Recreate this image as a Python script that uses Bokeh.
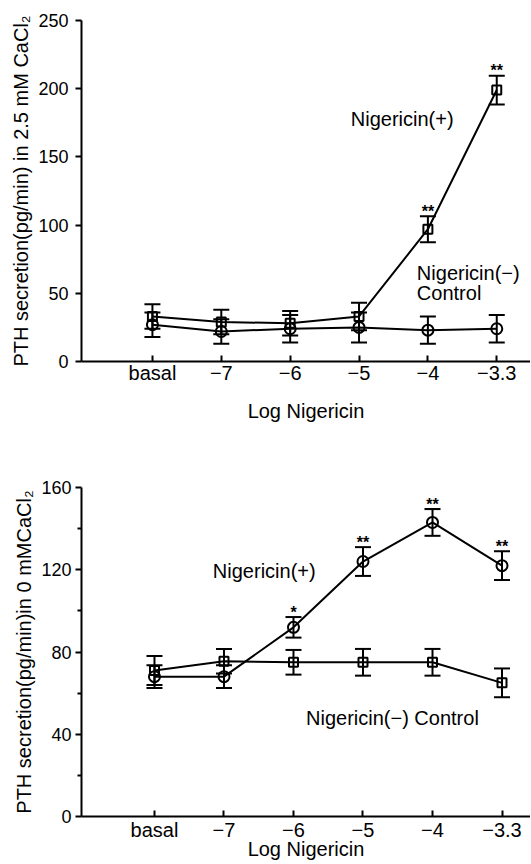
from bokeh.plotting import figure
from bokeh.models import Range1d, FixedTicker, Whisker, ColumnDataSource, Label, TeeHead
from bokeh.layouts import column
from bokeh.embed import file_html
from bokeh.resources import INLINE
from bokeh.core.properties import value

# ---------------- data ----------------
categories = ["basal", "\u22127", "\u22126", "\u22125", "\u22124", "\u22123.3"]

# top panel: 2.5 mM CaCl2
top_plus = [33, 29, 28, 33, 97, 199]
top_plus_err = [9, 9, 9, 10, 9.5, 10.5]
top_ctrl = [27, 22, 24, 25, 23, 24]
top_ctrl_err = [9, 9, 10, 11, 10, 10]
top_plus_sig = ["", "", "", "", "**", "**"]
top_yticks = [0, 50, 100, 150, 200, 250]

# bottom panel: 0 mM CaCl2
bot_plus = [68, 68, 92, 124, 143, 122]
bot_plus_err = [5.5, 5.5, 5, 7, 6.5, 7]
bot_ctrl = [71, 75.5, 75, 75, 75, 65]
bot_ctrl_err = [7, 6, 6, 6.5, 6.5, 7]
bot_plus_sig = ["", "", "*", "**", "**", "**"]
bot_yticks = [0, 40, 80, 120, 160]
bot_yminor = [20, 60, 100, 140]

FONT = "Liberation Sans"
x_pos = list(range(len(categories)))


def series(p, means, errs, marker, size, sig=None):
    src = ColumnDataSource(dict(
        x=x_pos, y=means,
        upper=[m + e for m, e in zip(means, errs)],
        lower=[m - e for m, e in zip(means, errs)],
        sig=sig if sig is not None else [""] * len(means),
    ))
    p.line("x", "y", source=src, line_color="black", line_width=2)
    w = Whisker(source=src, base="x", upper="upper", lower="lower",
                line_color="black", line_width=2,
                upper_head=TeeHead(size=16, line_width=2, line_color="black"),
                lower_head=TeeHead(size=16, line_width=2, line_color="black"))
    p.add_layout(w)
    p.scatter("x", "y", source=src, marker=marker, size=size,
              fill_color=None, line_color="black", line_width=2)
    if sig is not None:
        p.text(x="x", y="upper", text="sig", source=src, text_align="center",
               text_baseline="alphabetic", y_offset=-5, text_font_size="16px",
               text_font_style="bold", text_font=value(FONT), text_color="black")


def style(p, yticks, yminor, xlabel_standoff, xtitle_standoff, ylabel_standoff):
    p.xaxis.ticker = FixedTicker(ticks=x_pos)
    p.xaxis.major_label_overrides = {i: c for i, c in enumerate(categories)}
    p.yaxis.ticker = FixedTicker(ticks=yticks, minor_ticks=yminor)
    p.grid.visible = False
    p.outline_line_color = None
    for ax in (p.xaxis[0], p.yaxis[0]):
        ax.axis_line_width = 2
        ax.axis_line_color = "black"
        ax.major_tick_line_width = 2
        ax.major_tick_line_color = "black"
        ax.minor_tick_line_width = 2
        ax.minor_tick_line_color = "black"
        ax.major_label_text_font = FONT
        ax.major_label_text_font_size = "18px"
        ax.major_label_text_color = "black"
        ax.axis_label_text_font = FONT
        ax.axis_label_text_font_size = "20px"
        ax.axis_label_text_font_style = "normal"
        ax.axis_label_text_color = "black"
    p.xaxis.major_label_text_font_size = "20px"
    p.xaxis.major_tick_in = 6
    p.xaxis.major_tick_out = 0
    p.xaxis.minor_tick_in = 0
    p.xaxis.minor_tick_out = 0
    p.xaxis.major_label_standoff = xlabel_standoff
    p.xaxis.axis_label_standoff = xtitle_standoff
    p.yaxis.major_tick_in = 0
    p.yaxis.major_tick_out = 6
    p.yaxis.minor_tick_in = 0
    p.yaxis.minor_tick_out = 4
    p.yaxis.major_label_standoff = ylabel_standoff
    p.yaxis.axis_label_standoff = 3


# ---------------- top panel ----------------
p1 = figure(width=530, height=428, x_range=Range1d(-1.03, 5.49), y_range=Range1d(0, 250),
            output_backend="svg", toolbar_location=None,
            min_border_left=81, min_border_right=0, min_border_top=20, min_border_bottom=67,
            x_axis_label="Log Nigericin",
            y_axis_label="PTH secretion(pg/min) in 2.5 mM CaCl\u2082")
style(p1, top_yticks, [], 0, 13, 7)
series(p1, top_ctrl, top_ctrl_err, "circle", 11)
series(p1, top_plus, top_plus_err, "square", 9, top_plus_sig)
p1.add_layout(Label(x=2.88, y=178, text="Nigericin(+)", text_baseline="middle",
                    text_font=FONT, text_font_size="20px", text_color="black"))
p1.add_layout(Label(x=3.84, y=65, text="Nigericin(\u2212)", text_baseline="middle",
                    text_font=FONT, text_font_size="20px", text_color="black"))
p1.add_layout(Label(x=3.84, y=50, text="Control", text_baseline="middle",
                    text_font=FONT, text_font_size="20px", text_color="black"))

# ---------------- bottom panel ----------------
p2 = figure(width=530, height=436, x_range=Range1d(-1.05, 5.41), y_range=Range1d(0, 160),
            output_backend="svg", toolbar_location=None,
            min_border_left=76, min_border_right=0, min_border_top=59, min_border_bottom=48,
            x_axis_label="Log Nigericin",
            y_axis_label="PTH secretion(pg/min)in 0 mMCaCl\u2082")
style(p2, bot_yticks, bot_yminor, 2, -6, 4)
series(p2, bot_ctrl, bot_ctrl_err, "square", 9)
series(p2, bot_plus, bot_plus_err, "circle", 11, bot_plus_sig)
p2.add_layout(Label(x=0.84, y=119.5, text="Nigericin(+)", text_baseline="middle",
                    text_font=FONT, text_font_size="20px", text_color="black"))
p2.add_layout(Label(x=2.18, y=47.7, text="Nigericin(\u2212) Control", text_baseline="middle",
                    text_font=FONT, text_font_size="20px", text_color="black"))

layout = column(p1, p2, spacing=0)
open("out.html", "w").write(file_html(layout, INLINE))
